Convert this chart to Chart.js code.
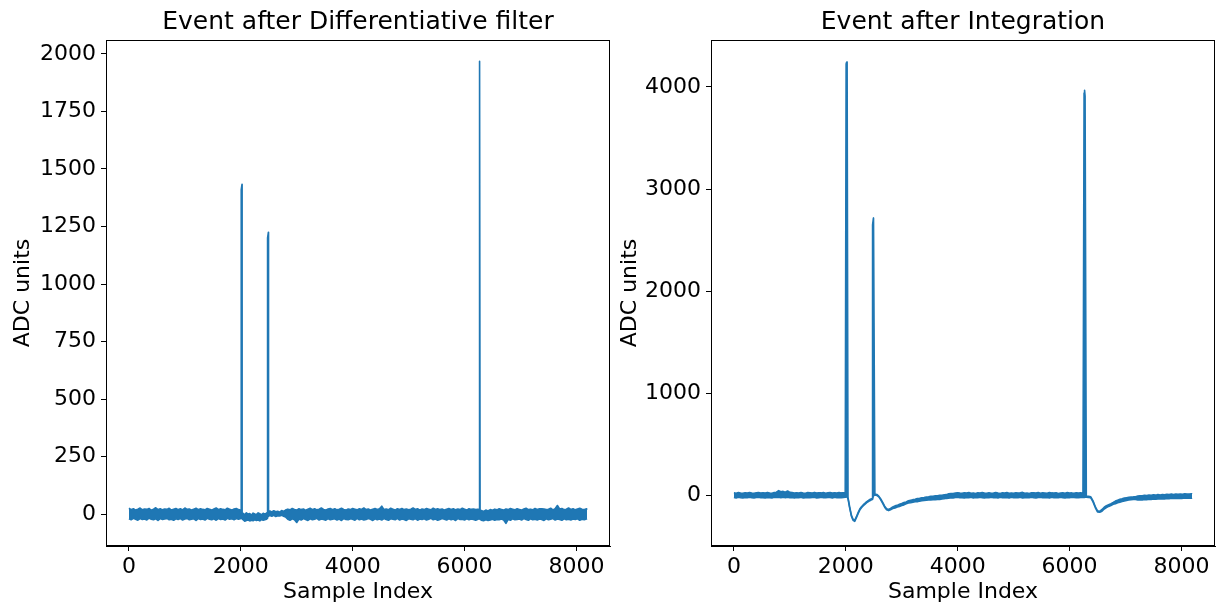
<!DOCTYPE html>
<html>
<head>
<meta charset="utf-8">
<script src="https://cdn.jsdelivr.net/npm/chart.js@4.4.1/dist/chart.umd.min.js"></script>
<style>
  html, body { margin: 0; padding: 0; background: #fff; }
  #wrap { position: relative; width: 1225px; height: 606px; overflow: hidden; }
  .panel { position: absolute; top: 0; height: 606px; }
</style>
</head>
<body>
<div id="wrap">
  <div class="panel" style="left:0px;width:616px;"><canvas id="diffChart"></canvas></div>
  <div class="panel" style="left:612px;width:613px;"><canvas id="intChart"></canvas></div>
</div>
<script>
// sample index grid shared by both traces (denser around the pulses)
const sampleIndex = [
  0,40,80,120,160,200,240,280,320,360,400,440,480,520,560,600,640,680,720,760,
  800,840,880,920,960,1000,1040,1080,1120,1160,1200,1240,1280,1320,1360,1400,1440,1480,1520,1560,
  1600,1640,1680,1720,1760,1800,1840,1880,1920,1960,
  1990,2006,2008,2022,2024,
  2040,2070,2100,2130,2160,2190,2220,2250,2280,2310,2340,2370,2400,2430,2460,
  2470,2478,2480,2494,2496,
  2520,2555,2590,2625,2660,2695,2730,2765,2800,
  2840,2880,2920,2960,3000,3040,3080,3120,3160,3200,3240,3280,3320,3360,3400,3440,3480,3520,3560,3600,
  3640,3680,3720,3760,3800,3840,3880,3920,3960,4000,4040,4080,4120,4160,4200,4240,4280,4320,4360,4400,
  4440,4480,4520,4560,4600,4640,4680,4720,4760,4800,4840,4880,4920,4960,5000,5040,5080,5120,5160,5200,
  5240,5280,5320,5360,5400,5440,5480,5520,5560,5600,5640,5680,5720,5760,5800,5840,5880,5920,5960,6000,
  6040,6080,6120,6160,6200,6240,
  6260,6262,6276,6278,
  6300,6340,6380,6420,6460,6500,6540,6580,6620,6660,6700,6740,6780,6820,6860,6900,6940,6980,7020,7060,
  7100,7140,7180,7220,7260,7300,7340,7380,7420,7460,7500,7540,7580,7620,7660,7700,7740,7780,7820,7860,
  7900,7940,7980,8020,8060,8100,8140,8180,
  8191
];

// differentiative filter: upper / lower edge of the noisy trace
const diffUpper = [
  26,20,24,18,22,27,19,23,21,25,17,22,28,20,24,19,23,21,26,18,
  22,25,20,24,19,27,21,23,18,22,26,20,24,21,19,25,22,18,23,27,
  20,24,21,19,26,22,18,23,25,20,
  18,10,1410,1433,6,
  4,-2,6,0,3,-4,5,1,-1,6,2,-3,4,0,5,
  6,8,1200,1225,10,
  14,10,15,11,13,9,16,12,18,
  22,19,25,21,18,24,20,23,17,22,26,20,24,19,22,27,21,18,23,25,
  20,24,19,22,26,21,18,23,20,25,22,19,24,21,27,20,23,18,22,25,
  21,24,35,20,23,19,26,22,18,24,21,25,20,23,19,22,27,21,24,18,
  23,20,25,22,19,26,21,24,20,23,18,22,25,21,24,19,23,20,26,22,
  18,24,21,23,20,22,
  20,1940,1968,14,
  16,12,18,14,20,17,22,19,24,21,18,23,20,25,22,19,24,21,18,23,
  26,20,22,19,25,21,24,24,23,20,22,26,19,24,38,23,25,20,22,27,
  21,24,19,23,26,22,20,24,
  20
];
const diffLower = [
  -20,-24,-18,-22,-26,-19,-23,-21,-25,-17,-22,-24,-20,-27,-19,-23,-21,-18,-24,-22,
  -26,-20,-23,-19,-25,-21,-18,-24,-22,-20,-27,-19,-23,-21,-25,-18,-22,-24,-20,-26,
  -19,-23,-21,-25,-18,-22,-20,-24,-19,-22,
  -20,-18,-16,-14,-20,
  -24,-30,-27,-25,-29,-26,-28,-24,-27,-25,-29,-23,-26,-24,-22,
  -18,-14,-12,-10,-8,
  -6,-9,-5,-10,-7,-8,-4,-9,-12,
  -22,-26,-20,-24,-36,-21,-25,-19,-23,-27,-20,-24,-22,-18,-25,-21,-23,-26,-19,-24,
  -22,-20,-25,-21,-27,-19,-23,-24,-20,-22,-26,-18,-24,-21,-25,-23,-19,-22,-27,-20,
  -24,-21,-25,-19,-23,-26,-20,-22,-24,-18,-25,-21,-23,-27,-20,-22,-24,-19,-26,-21,
  -23,-20,-25,-22,-18,-24,-21,-26,-23,-19,-22,-25,-20,-24,-21,-27,-19,-23,-22,-25,
  -20,-24,-21,-23,-26,-22,
  -20,-18,-20,-22,
  -26,-28,-24,-27,-25,-22,-26,-23,-24,-21,-25,-40,-22,-26,-20,-24,-23,-21,-25,-19,
  -23,-26,-20,-24,-22,-25,-21,-23,-27,-20,-24,-22,-19,-25,-21,-23,-26,-20,-24,-22,
  -25,-21,-23,-20,-26,-22,-24,-21,
  -20
];

// integration: upper / lower edge of the noisy trace
const intUpper = [
  24,20,26,22,19,25,21,27,23,20,24,26,21,25,22,28,23,20,26,30,
  45,34,38,30,42,28,26,22,25,21,27,23,20,26,24,22,28,21,25,23,
  27,20,24,26,22,25,21,27,23,24,
  24,4225,4232,4245,4190,
  -24,-115,-195,-235,-245,-210,-170,-135,-113,-95,-80,-64,-52,-42,-34,
  -32,2640,2650,2715,2690,
  12,8,-8,-36,-70,-107,-133,-140,-129,
  -114,-104,-99,-88,-81,-71,-65,-53,-48,-43,-40,-33,-30,-25,-22,-17,-16,-11,-10,-6,
  -5,-1,0,4,6,14,18,16,21,24,21,19,25,22,27,20,23,18,24,21,
  26,22,19,25,20,23,27,21,18,24,22,26,20,23,19,25,21,24,28,20,
  22,18,25,23,21,26,19,24,22,20,27,23,21,25,18,22,24,20,26,21,
  23,19,25,22,24,20,
  3940,3950,3968,3910,
  -9,-11,-15,-55,-110,-153,-157,-139,-117,-102,-92,-82,-71,-57,-48,-40,-35,-28,-24,-20,
  -17,-16,-14,-8,-4,-6,-1,-3,2,0,4,1,6,3,8,5,10,7,11,8,
  12,9,13,10,14,11,12,15,
  12
];
const intLower = [
  -22,-26,-20,-24,-27,-21,-25,-19,-23,-26,-22,-20,-25,-23,-27,-21,-24,-26,-20,-22,
  -18,-24,-20,-23,-19,-25,-22,-26,-21,-24,-20,-27,-23,-21,-25,-22,-19,-26,-24,-20,
  -23,-25,-21,-22,-26,-20,-24,-22,-25,-21,
  -20,-18,-17,-16,-14,
  -36,-125,-205,-245,-255,-220,-180,-145,-123,-105,-90,-75,-63,-53,-45,
  -42,-40,-30,-10,0,
  2,-2,-16,-44,-80,-117,-143,-150,-141,
  -130,-124,-114,-109,-100,-94,-84,-76,-73,-68,-64,-62,-57,-54,-52,-49,-47,-46,-44,-43,
  -41,-40,-36,-34,-30,-28,-24,-26,-22,-19,-25,-23,-27,-21,-24,-20,-26,-22,-25,-19,
  -23,-27,-21,-24,-20,-25,-22,-26,-19,-23,-24,-21,-27,-20,-25,-22,-24,-19,-26,-23,
  -21,-25,-20,-24,-27,-22,-19,-25,-23,-21,-26,-20,-24,-22,-25,-19,-23,-26,-21,-24,
  -20,-22,-25,-23,-21,-20,
  -22,-20,-18,-16,
  -19,-21,-25,-65,-120,-163,-167,-157,-135,-121,-109,-101,-89,-83,-73,-67,-61,-55,-50,-47,
  -44,-42,-41,-47,-44,-46,-41,-43,-39,-41,-37,-39,-35,-37,-33,-35,-31,-34,-30,-32,
  -29,-31,-28,-30,-27,-29,-26,-28,
  -26
];

const xTicks = [0, 2000, 4000, 6000, 8000];
const diffTicks = [0, 250, 500, 750, 1000, 1250, 1500, 1750, 2000];
const intTicks = [0, 1000, 2000, 3000, 4000];

const lineColor = '#1f77b4';
Chart.defaults.font.family = "'DejaVu Sans', sans-serif";
Chart.defaults.color = '#000';

// matplotlib draws all four spines
const framePlugin = {
  id: 'frame',
  afterDraw(chart) {
    const a = chart.chartArea;
    const ctx = chart.ctx;
    ctx.save();
    ctx.strokeStyle = '#000';
    ctx.lineWidth = 1;
    ctx.strokeRect(Math.round(a.left) + 0.5, Math.round(a.top) + 0.5,
      Math.round(a.right - a.left) - 1, Math.round(a.bottom - a.top) - 1);
    ctx.restore();
  }
};

function makePoints(ys) {
  let pts = [];
  for (let i = 0; i < sampleIndex.length; i++) {
    pts.push({x: sampleIndex[i], y: ys[i]});
  }
  return pts;
}

function makeChart(id, titleText, upper, lower, yMin, yMax, yTicks, yWidth, yTitlePad, padRight) {
  const tickStyle = {
    drawOnChartArea: false,
    drawTicks: true,
    tickLength: 5,
    tickColor: '#000',
    tickWidth: 1
  };
  const edge = {
    borderColor: lineColor,
    backgroundColor: lineColor,
    borderWidth: 1.6,
    borderJoinStyle: 'round',
    pointRadius: 0,
    tension: 0
  };
  return new Chart(document.getElementById(id), {
    type: 'line',
    data: {
      datasets: [
        Object.assign({ data: makePoints(upper), fill: '+1' }, edge),
        Object.assign({ data: makePoints(lower), fill: false }, edge)
      ]
    },
    options: {
      responsive: true,
      maintainAspectRatio: false,
      animation: false,
      parsing: false,
      layout: { padding: { left: 0, right: padRight, top: 0, bottom: 0 } },
      plugins: {
        legend: { display: false },
        tooltip: { enabled: false },
        title: {
          display: true,
          text: titleText,
          fullSize: false,
          color: '#000',
          font: { size: 25, weight: 'normal', lineHeight: 1.2 },
          padding: { top: 7, bottom: 3 }
        }
      },
      scales: {
        x: {
          type: 'linear',
          min: -409.5,
          max: 8600.5,
          afterBuildTicks(scale) { scale.ticks = xTicks.map(v => ({value: v})); },
          afterFit(scale) { scale.height = 60; },
          ticks: { font: { size: 22 }, color: '#000', padding: 3, autoSkip: false,
                   maxRotation: 0, callback: v => String(v) },
          grid: tickStyle,
          border: { display: true, color: '#000', width: 1 },
          title: { display: true, text: 'Sample Index', color: '#000',
                   font: { size: 22 }, padding: { top: 0, bottom: 1 } }
        },
        y: {
          type: 'linear',
          min: yMin,
          max: yMax,
          afterBuildTicks(scale) { scale.ticks = yTicks.map(v => ({value: v})); },
          afterFit(scale) { scale.width = yWidth; },
          ticks: { font: { size: 22 }, color: '#000', padding: 5, autoSkip: false,
                   callback: v => String(v) },
          grid: tickStyle,
          border: { display: true, color: '#000', width: 1 },
          title: { display: true, text: 'ADC units', color: '#000',
                   font: { size: 22 }, padding: { top: yTitlePad, bottom: 0 } }
        }
      }
    },
    plugins: [framePlugin]
  });
}

makeChart('diffChart', 'Event after Differentiative filter', diffUpper, diffLower,
  -138, 2060, diffTicks, 106, 10, 6);
makeChart('intChart', 'Event after Integration', intUpper, intLower,
  -497, 4460, intTicks, 99, 5, 10);
</script>
</body>
</html>
